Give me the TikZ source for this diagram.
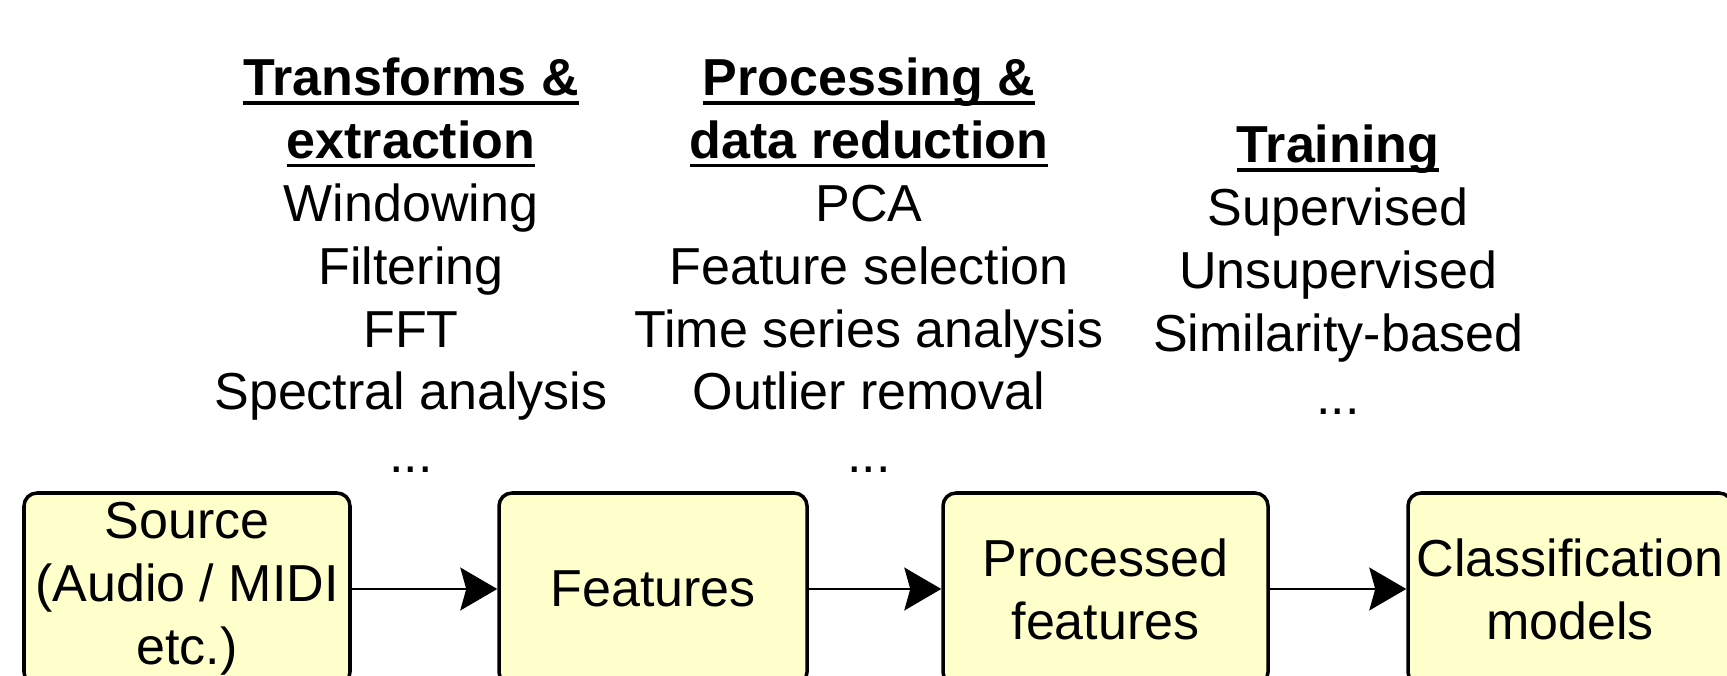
\documentclass[tikz,border=0pt]{standalone}
\usepackage{fontspec}
\setmainfont{Liberation Sans}
\usetikzlibrary{arrows.meta}
\definecolor{boxfill}{HTML}{FFFFCC}
\newsavebox{\hdbox}
\newcommand{\hd}[1]{\sbox{\hdbox}{\textbf{#1}}\usebox{\hdbox}\llap{\rule[-2.6pt]{\wd\hdbox}{1.1pt}}}

\begin{document}
\begin{tikzpicture}[
  every node/.style={font=\fontsize{14.8pt}{17.9pt}\selectfont,align=center,inner sep=0pt},
  stage/.style={draw,line width=1pt,fill=boxfill,rounded corners=.13cm,minimum height=1.92cm},
  flow/.style={-{Stealth[length=3.7mm,width=4.3mm,inset=.6mm]},line width=.4pt}]
\useasboundingbox (0,0) rectangle (17.27,6.76);
% stages
\node[stage,minimum width=3.26cm] (src) at (1.87,.87) {Source\\(Audio / MIDI\\etc.)};
\node[stage,minimum width=3.08cm] (feat) at (6.53,.87) {Features};
\node[stage,minimum width=3.25cm] (proc) at (11.055,.87) {Processed\\features};
\node[stage,minimum width=3.24cm] (model) at (15.70,.87) {Classification\\models};
\foreach \a/\b in {src/feat,feat/proc,proc/model}{\draw[flow] (\a) -- (\b);}
% lists above
\node[anchor=north] (extract) at (4.11,6.19) {\hd{Transforms \&}\\\hd{extraction}\\Windowing\\Filtering\\FFT\\Spectral analysis\\...};
\node[anchor=north] (reduce) at (8.69,6.19) {\hd{Processing \&}\\\hd{data reduction}\\PCA\\Feature selection\\Time series analysis\\Outlier removal\\...};
\node[anchor=north] (train) at (13.38,5.52) {\hd{Training}\\Supervised\\Unsupervised\\Similarity-based\\...};
\end{tikzpicture}
\end{document}
